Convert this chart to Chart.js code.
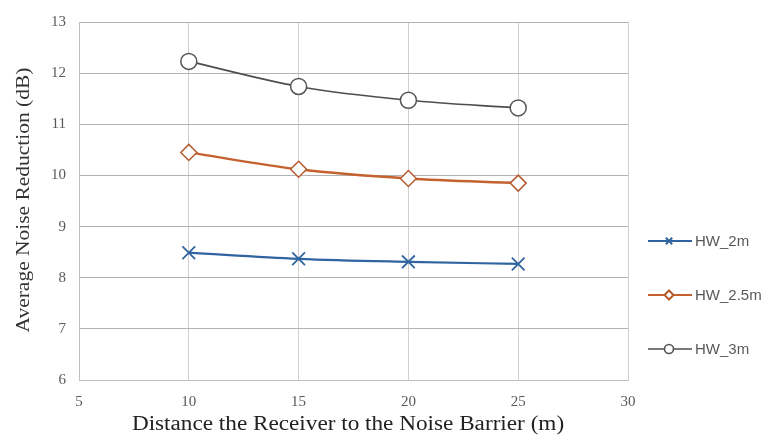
<!DOCTYPE html>
<html>
<head>
<meta charset="utf-8">
<script src="https://cdn.jsdelivr.net/npm/chart.js@4"></script>
<style>
  html, body { margin: 0; padding: 0; background: #fff; }
  #wrap { width: 769px; height: 438px; }
</style>
</head>
<body>
<div id="wrap"><canvas id="line"></canvas></div>
<script>
const distances = [10, 15, 20, 25];
const hw2m = [8.49, 8.37, 8.31, 8.27];
const hw25m = [10.45, 10.12, 9.94, 9.85];
const hw3m = [12.23, 11.74, 11.47, 11.32];
const seriesNames = ['HW_2m', 'HW_2.5m', 'HW_3m'];
const xTicks = [5, 10, 15, 20, 25, 30];
const yTicks = [6, 7, 8, 9, 10, 11, 12, 13];
const xTitle = 'Distance the Receiver to the Noise Barrier (m)';
const yTitle = 'Average Noise Reduction (dB)';

const toPoints = vals => vals.map((v, i) => ({ x: distances[i], y: v }));
const serif = '"Liberation Serif", "Times New Roman", serif';

// legend drawn as line + marker, like the spreadsheet legend
const sideLegend = {
  id: 'sideLegend',
  afterDraw(chart) {
    const ctx = chart.ctx;
    const rows = [241, 295, 349];
    chart.data.datasets.forEach((ds, i) => {
      const y = rows[i];
      ctx.save();
      ctx.strokeStyle = ds.borderColor;
      ctx.lineWidth = Math.min(ds.borderWidth, 2);
      ctx.beginPath();
      ctx.moveTo(648, y);
      ctx.lineTo(692, y);
      ctx.stroke();
      ctx.fillStyle = ds.pointBackgroundColor;
      ctx.strokeStyle = ds.pointBorderColor;
      Chart.helpers.drawPoint(ctx, {
        pointStyle: ds.pointStyle,
        radius: 4.5,
        borderWidth: 1.2,
        rotation: 0
      }, 669, y);
      ctx.restore();
      ctx.save();
      ctx.fillStyle = '#595959';
      ctx.font = '15px "Liberation Sans", Arial, sans-serif';
      ctx.textBaseline = 'middle';
      ctx.fillText(ds.label, 695, y + 1);
      ctx.restore();
    });
  }
};

// axis titles, slightly widened like the original export
const axisTitles = {
  id: 'axisTitles',
  afterDraw(chart) {
    const ctx = chart.ctx;
    ctx.save();
    ctx.fillStyle = '#222';
    ctx.font = '20px ' + serif;
    ctx.textAlign = 'center';
    ctx.textBaseline = 'alphabetic';
    ctx.translate(348, 430);
    ctx.scale(1.16, 1);
    ctx.fillText(xTitle, 0, 0);
    ctx.restore();

    ctx.save();
    ctx.fillStyle = '#333';
    ctx.font = '19px ' + serif;
    ctx.textAlign = 'center';
    ctx.textBaseline = 'middle';
    ctx.translate(24, 200);
    ctx.rotate(-Math.PI / 2);
    ctx.scale(1.13, 1);
    ctx.fillText(yTitle, 0, 0);
    ctx.restore();
  }
};

const chart = new Chart(document.getElementById('line'), {
  type: 'line',
  data: {
    datasets: [
      {
        label: seriesNames[0],
        data: toPoints(hw2m),
        borderColor: '#2f64a0',
        borderWidth: 2.2,
        pointStyle: 'crossRot',
        pointRadius: 9,
        pointBorderWidth: 1.8,
        pointBorderColor: '#2f64a0',
        pointBackgroundColor: '#2f64a0',
        tension: 0.4,
        cubicInterpolationMode: 'monotone'
      },
      {
        label: seriesNames[1],
        data: toPoints(hw25m),
        borderColor: '#c4612d',
        borderWidth: 2.4,
        pointStyle: 'rectRot',
        pointRadius: 8,
        pointBorderWidth: 1.5,
        pointBorderColor: '#b45a2d',
        pointBackgroundColor: '#ffffff',
        tension: 0.4,
        cubicInterpolationMode: 'monotone'
      },
      {
        label: seriesNames[2],
        data: toPoints(hw3m),
        borderColor: '#4d4d4d',
        borderWidth: 1.6,
        pointStyle: 'circle',
        pointRadius: 8,
        pointBorderWidth: 1.5,
        pointBorderColor: '#555555',
        pointBackgroundColor: '#ffffff',
        tension: 0.4,
        cubicInterpolationMode: 'monotone'
      }
    ]
  },
  options: {
    responsive: true,
    maintainAspectRatio: false,
    animation: false,
    layout: { padding: { left: 0, right: 141, top: 6, bottom: 0 } },
    plugins: { legend: { display: false }, tooltip: { enabled: false } },
    scales: {
      x: {
        type: 'linear',
        min: 5, max: 30,
        afterBuildTicks: s => { s.ticks = xTicks.map(v => ({ value: v })); },
        afterFit: s => { s.height = 58; },
        grid: { color: '#d0d0d0', lineWidth: 1, drawTicks: false },
        border: { color: '#bfbfbf' },
        ticks: {
          color: '#595959',
          padding: 13,
          font: { family: serif, size: 15 }
        }
      },
      y: {
        min: 6, max: 13,
        afterBuildTicks: s => { s.ticks = yTicks.map(v => ({ value: v })); },
        afterFit: s => { s.width = 79; },
        grid: { color: '#b3b3b3', lineWidth: 1, drawTicks: false },
        border: { color: '#bfbfbf' },
        ticks: {
          color: '#595959',
          padding: 13,
          font: { family: serif, size: 15 }
        }
      }
    }
  },
  plugins: [sideLegend, axisTitles]
});
</script>
</body>
</html>
